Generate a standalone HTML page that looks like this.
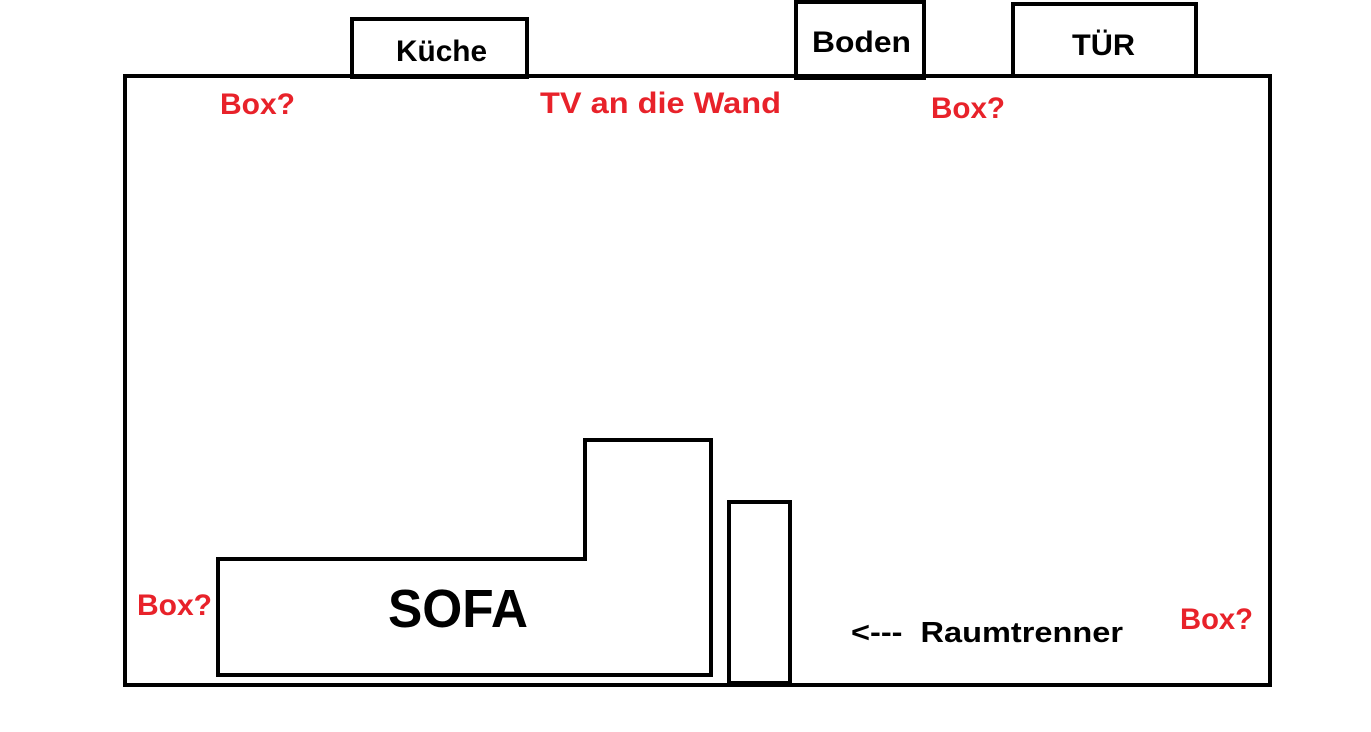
<!DOCTYPE html>
<html><head><meta charset="utf-8"><style>html,body{margin:0;padding:0;background:#fff}svg{display:block}</style></head>
<body>
<svg width="1371" height="732" viewBox="0 0 1371 732" xmlns="http://www.w3.org/2000/svg">
<g fill="none" stroke="#000" stroke-width="4">
<rect x="125" y="76" width="1145" height="609"/>
<rect x="352" y="19" width="175" height="58"/>
<rect x="796" y="2" width="128" height="76"/>
<rect x="1013" y="4" width="183" height="72"/>
<polygon points="218,559 585,559 585,440 711,440 711,675 218,675"/>
<rect x="729" y="502" width="61" height="181"/>
</g>
<g font-family="Liberation Sans, sans-serif" font-weight="bold" fill="#000">
<text x="396" y="61" font-size="30" textLength="91" lengthAdjust="spacingAndGlyphs">Küche</text>
<text x="812" y="52" font-size="30" textLength="99" lengthAdjust="spacingAndGlyphs">Boden</text>
<text x="1072" y="55" font-size="30" textLength="63" lengthAdjust="spacingAndGlyphs">TÜR</text>
<text x="388" y="627" font-size="54" textLength="140" lengthAdjust="spacingAndGlyphs">SOFA</text>
<text x="851" y="642" font-size="29" textLength="272" lengthAdjust="spacingAndGlyphs" xml:space="preserve">&lt;---  Raumtrenner</text>
</g>
<g font-family="Liberation Sans, sans-serif" font-weight="bold" fill="#e8222a" font-size="30">
<text x="220" y="114" textLength="75" lengthAdjust="spacingAndGlyphs">Box?</text>
<text x="540" y="113" textLength="241" lengthAdjust="spacingAndGlyphs">TV an die Wand</text>
<text x="931" y="118" textLength="74" lengthAdjust="spacingAndGlyphs">Box?</text>
<text x="137" y="615" textLength="75" lengthAdjust="spacingAndGlyphs">Box?</text>
<text x="1180" y="629" textLength="73" lengthAdjust="spacingAndGlyphs">Box?</text>
</g>
</svg>
</body></html>
